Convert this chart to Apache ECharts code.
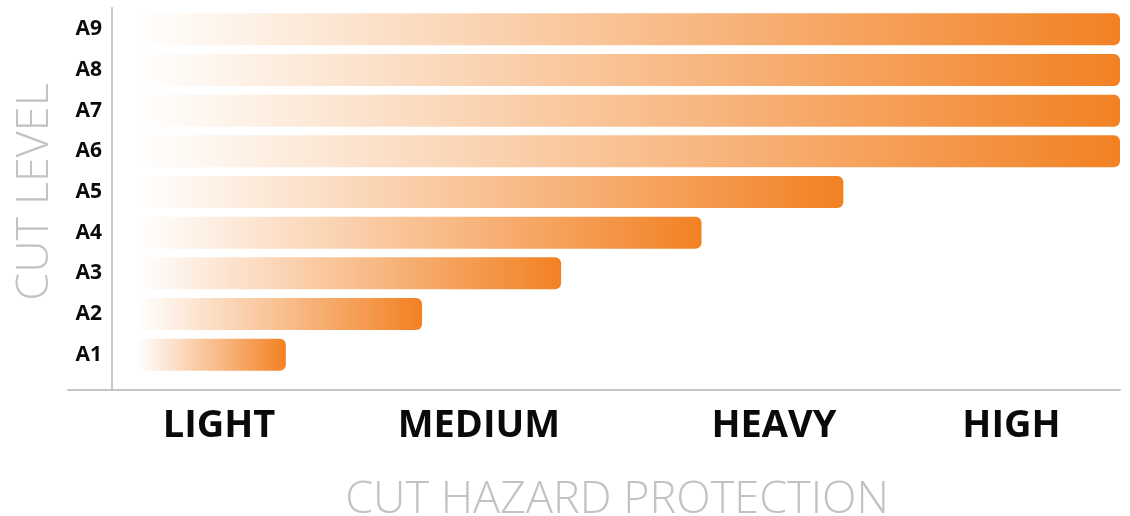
<!DOCTYPE html>
<html>
<head>
<meta charset="utf-8">
<script src="https://cdn.jsdelivr.net/npm/echarts@6/dist/echarts.min.js"></script>
<style>
html,body{margin:0;padding:0;background:#fff;}
#chart{width:1130px;height:516px;}
</style>
</head>
<body>
<div id="chart"></div>
<script>
// Data
var categories = ['A1','A2','A3','A4','A5','A6','A7','A8','A9'];
var barValues = [1.06, 2.03, 3.02, 4.02, 5.03, 7, 7, 7, 7];
var xTickPositions = [0.584, 2.435, 4.536, 6.227];
var xTickLabels = ['LIGHT', 'MEDIUM', 'HEAVY', 'HIGH'];
var xMax = 7;

var chart = echarts.init(document.getElementById('chart'), null, {renderer: 'canvas'});
var lineColor = '#c6c6c6';
var nameColor = '#c2c2c2';

var option = {
  backgroundColor: '#ffffff',
  animation: false,
  grid: [
    {left: 137, right: 10, top: 9, bottom: 141, outerBoundsMode: 'none'},
    {left: 68, right: 10, top: 8, bottom: 126, outerBoundsMode: 'none'},
    {left: 112, right: 10, top: 8, bottom: 126, outerBoundsMode: 'none'}
  ],
  xAxis: [
    {
      gridIndex: 0, type: 'value', min: 0, max: xMax,
      axisLine: {show: false}, axisTick: {show: false}, splitLine: {show: false},
      axisLabel: {
        customValues: xTickPositions,
        margin: 32,
        fontFamily: 'Open Sans', fontWeight: 'bold', fontSize: 38, color: '#0a0a0a',
        formatter: function (v) {
          for (var i = 0; i < xTickPositions.length; i++) {
            if (Math.abs(xTickPositions[i] - v) < 1e-6) return xTickLabels[i];
          }
          return '';
        }
      },
      name: 'CUT HAZARD PROTECTION', nameLocation: 'middle', nameGap: 103,
      nameTextStyle: {fontFamily: 'Open Sans', fontWeight: 300, fontSize: 45, color: nameColor, padding: [0, 23, 0, 0]}
    },
    {
      gridIndex: 1, type: 'value', min: 0, max: 1,
      axisLine: {show: true, lineStyle: {color: lineColor, width: 2}},
      axisTick: {show: false}, axisLabel: {show: false}, splitLine: {show: false}
    },
    {
      gridIndex: 2, type: 'value', min: 0, max: 1, show: false
    }
  ],
  yAxis: [
    {
      gridIndex: 0, type: 'category', data: categories,
      axisLine: {show: false}, axisTick: {show: false}, splitLine: {show: false},
      axisLabel: {margin: 35, fontFamily: 'Open Sans', fontWeight: 'bold', fontSize: 21, color: '#0a0a0a'},
      name: 'CUT LEVEL', nameLocation: 'middle', nameGap: 79,
      nameTextStyle: {fontFamily: 'Open Sans', fontWeight: 300, fontSize: 45, color: nameColor}
    },
    {
      gridIndex: 1, type: 'value', min: 0, max: 1, show: false
    },
    {
      gridIndex: 2, type: 'value', min: 0, max: 1,
      axisLine: {show: true, lineStyle: {color: lineColor, width: 2}},
      axisTick: {show: false}, axisLabel: {show: false}, splitLine: {show: false}
    }
  ],
  series: [
    {
      type: 'bar',
      xAxisIndex: 0, yAxisIndex: 0,
      data: barValues,
      barWidth: 32,
      itemStyle: {
        borderRadius: 6,
        color: new echarts.graphic.LinearGradient(0, 0, 1, 0, [
          {offset: 0, color: 'rgba(242,129,35,0)'},
          {offset: 1, color: 'rgba(242,129,35,1)'}
        ])
      },
      silent: true
    }
  ]
};
chart.setOption(option);
</script>
</body>
</html>
